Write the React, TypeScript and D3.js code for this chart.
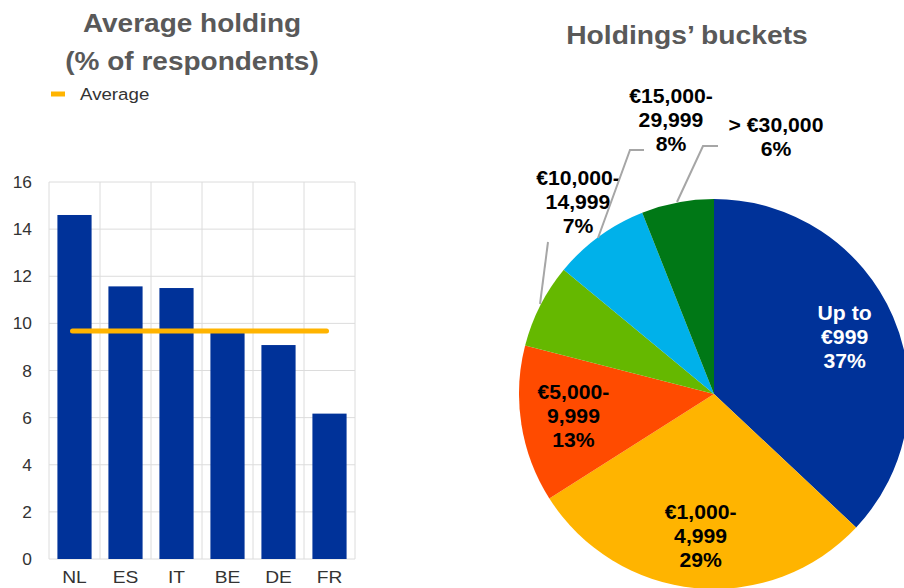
import React from "react";
import * as d3 from "d3";

const countries = ["NL", "ES", "IT", "BE", "DE", "FR"];
const holdings = [14.6, 11.57, 11.5, 9.6, 9.08, 6.17];
const averageValue = 9.68;
const yTicks = [0, 2, 4, 6, 8, 10, 12, 14, 16];

const buckets = [
  ["Up to", "€999", "37%"],
  ["€1,000-", "4,999", "29%"],
  ["€5,000-", "9,999", "13%"],
  ["€10,000-", "14,999", "7%"],
  ["€15,000-", "29,999", "8%"],
  ["> €30,000", "6%"],
];
const shares = [37, 29, 13, 7, 8, 6];
const sliceColors = ["#003299", "#FFB400", "#FF4B00", "#65B800", "#00B1EA", "#007816"];
const labelColors = ["#ffffff", "#000000", "#000000", "#000000", "#000000", "#000000"];

const FONT = "'Liberation Sans', Arial, sans-serif";

function T(props: {
  x: number; y: number; sx?: number; size: number; bold?: boolean; fill: string;
  anchor?: "start" | "middle" | "end"; children: React.ReactNode;
}) {
  const { x, y, sx = 1.1, size, bold, fill, anchor = "middle", children } = props;
  return (
    <text
      transform={`translate(${x},${y}) scale(${sx},1)`}
      textAnchor={anchor}
      fontSize={size}
      fontWeight={bold ? "bold" : "normal"}
      fill={fill}
    >
      {children}
    </text>
  );
}

export default function App() {
  const W = 904, H = 588;
  const x = d3.scaleBand().domain(countries).range([49, 355]).paddingInner(0.33).paddingOuter(0.165);
  const xGrid = d3.scaleBand().domain(countries).range([49, 355]);
  const y = d3.scaleLinear().domain([0, 16]).range([559, 182]);

  const cx = 714, cy = 394, R = 195;
  const pie = d3.pie<number>().sort(null).value((d) => d)(shares);
  const arc = d3.arc<d3.PieArcDatum<number>>().innerRadius(0).outerRadius(R);
  const labelArc = d3.arc<d3.PieArcDatum<number>>().innerRadius(R * 0.73).outerRadius(R * 0.73);

  const outside: Record<number, { lx: number; ly: number; line: [number, number][] }> = {
    3: { lx: 578, ly: 185, line: [[540, 304], [548, 242]] },
    4: { lx: 671, ly: 103, line: [[598, 238], [630, 150], [644, 150]] },
    5: { lx: 776, ly: 132, line: [[677, 202], [703, 146], [718, 146]] },
  };

  return (
    <div style={{ position: "fixed", left: 0, top: 0 }}>
      <svg width={W} height={H} style={{ display: "block", background: "#fff" }} fontFamily={FONT}>
        <T x={192} y={32} size={25} bold fill="#595959" sx={1.12}>Average holding</T>
        <T x={192} y={70} size={25} bold fill="#595959" sx={1.12}>(% of respondents)</T>
        <line x1={51} x2={65} y1={94} y2={94} stroke="#FFB400" strokeWidth={5} />
        <T x={80} y={100} size={17} fill="#333" anchor="start">Average</T>

        {yTicks.map((t) => (
          <line key={"g" + t} x1={49} x2={355} y1={y(t)} y2={y(t)} stroke="#dcdcdc" strokeWidth={1} />
        ))}
        {countries.map((c) => (
          <line key={"v" + c} x1={xGrid(c)!} x2={xGrid(c)!} y1={y(16)} y2={y(0)} stroke="#dcdcdc" strokeWidth={1} />
        ))}
        <line x1={355} x2={355} y1={y(16)} y2={y(0)} stroke="#dcdcdc" strokeWidth={1} />
        {yTicks.map((t) => (
          <T key={"t" + t} x={32} y={y(t) + 6} size={17} fill="#333" anchor="end" sx={1.02}>{t}</T>
        ))}
        {countries.map((c, i) => (
          <rect key={c} x={x(c)!} y={y(holdings[i])} width={x.bandwidth()} height={y(0) - y(holdings[i])} fill="#003299" />
        ))}
        {countries.map((c) => (
          <T key={"x" + c} x={x(c)! + x.bandwidth() / 2} y={583} size={16} fill="#333" sx={1.2}>{c}</T>
        ))}
        <line x1={x(countries[0])! + x.bandwidth() / 2 - 2} x2={x(countries[5])! + x.bandwidth() / 2 - 3} y1={y(averageValue)} y2={y(averageValue)} stroke="#FFB400" strokeWidth={5} strokeLinecap="round" />

        <T x={687} y={44} size={25} bold fill="#595959" sx={1.13}>Holdings’ buckets</T>

        <g transform={`translate(${cx},${cy})`}>
          {pie.map((p, i) => (
            <path key={i} d={arc(p)!} fill={sliceColors[i]} />
          ))}
        </g>
        {pie.map((p, i) => {
          if (outside[i]) {
            const o = outside[i];
            return (
              <g key={"l" + i}>
                <polyline points={o.line.map((q) => q.join(",")).join(" ")} fill="none" stroke="#a6a6a6" strokeWidth={2} />
                {buckets[i].map((s, k) => (
                  <T key={k} x={o.lx} y={o.ly + k * 24} size={20} bold fill={labelColors[i]} sx={1.06}>{s}</T>
                ))}
              </g>
            );
          }
          const [lx, ly] = labelArc.centroid(p);
          return (
            <g key={"l" + i}>
              {buckets[i].map((s, k) => (
                <T key={k} x={cx + lx} y={cy + ly + (k - 1) * 24 + 7} size={20} bold fill={labelColors[i]} sx={1.06}>{s}</T>
              ))}
            </g>
          );
        })}
      </svg>
    </div>
  );
}
